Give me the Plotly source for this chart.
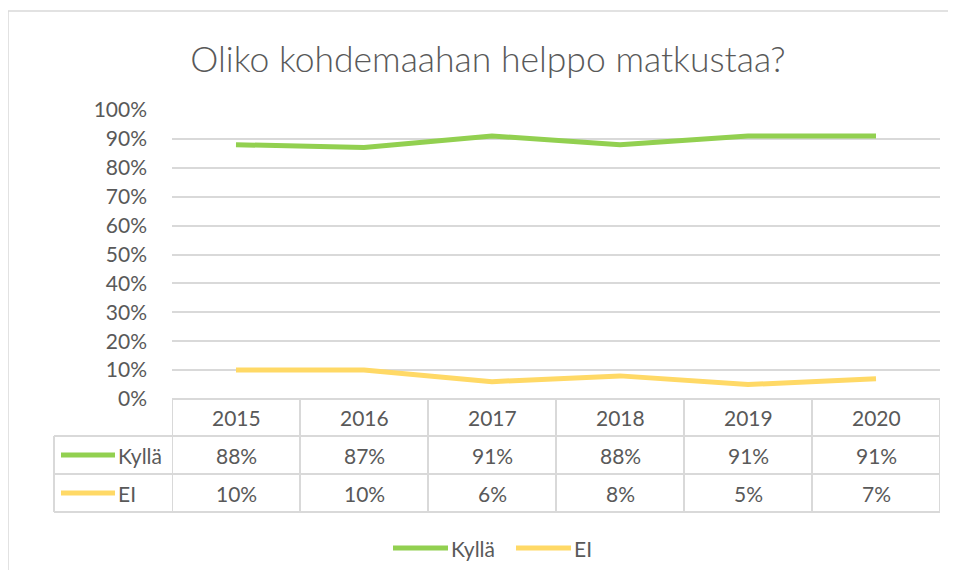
import plotly.graph_objects as go

# ---- data ----
years = ["2015", "2016", "2017", "2018", "2019", "2020"]
kylla = [0.88, 0.87, 0.91, 0.88, 0.91, 0.91]
ei = [0.10, 0.10, 0.06, 0.08, 0.05, 0.07]
series_names = ["Kyllä", "EI"]
title_text = "Oliko kohdemaahan helppo matkustaa?"
y_ticks = [0, 0.1, 0.2, 0.3, 0.4, 0.5, 0.6, 0.7, 0.8, 0.9, 1.0]

# ---- styling ----
OFF = 8  # default body margin of the html page
W, H = 956 - 2 * OFF, 578 - 2 * OFF
GREEN = "#92D050"
YELLOW = "#FFD966"
GRID = "#D9D9D9"
TXT = "#595959"
FONT = "Lato"
FS = 21


def px_x(x):
    return (x - OFF) / W


def px_y(y):
    return 1 - (y - OFF) / H


plot_left, plot_right = 172, 940
plot_top, plot_bottom = 110, 399
row_edges = [399, 436, 474, 512]
table_left = 54

xs = list(range(len(years)))
fig = go.Figure()
series = [kylla, ei]
colors = [GREEN, YELLOW]
for name, vals, col in zip(series_names, series, colors):
    fig.add_trace(go.Scatter(
        x=xs, y=vals, mode="lines", name=name,
        line=dict(color=col, width=5),
        hoverinfo="skip",
    ))

shapes = []
annotations = []

# outer chart border (left and top edges visible)
shapes.append(dict(type="line", xref="paper", yref="paper",
                   x0=px_x(8), x1=px_x(8), y0=px_y(11), y1=px_y(600),
                   line=dict(color=GRID, width=1.5), layer="below"))
shapes.append(dict(type="line", xref="paper", yref="paper",
                   x0=px_x(8), x1=px_x(990), y0=px_y(11), y1=px_y(11),
                   line=dict(color=GRID, width=1.5), layer="below"))

# table horizontal lines (data column region)
for ry in row_edges:
    shapes.append(dict(type="line", xref="x", yref="paper",
                       x0=-0.5, x1=len(years) - 0.5, y0=px_y(ry), y1=px_y(ry),
                       line=dict(color=GRID, width=2)))
# left label column horizontal lines
for ry in row_edges[1:]:
    shapes.append(dict(type="line", xref="paper", yref="paper",
                       x0=px_x(table_left), x1=px_x(plot_left), y0=px_y(ry), y1=px_y(ry),
                       line=dict(color=GRID, width=2)))
# vertical lines
for i in range(len(years) + 1):
    shapes.append(dict(type="line", xref="x", yref="paper",
                       x0=i - 0.5, x1=i - 0.5, y0=px_y(row_edges[0]), y1=px_y(row_edges[-1]),
                       line=dict(color=GRID, width=2)))
shapes.append(dict(type="line", xref="paper", yref="paper",
                   x0=px_x(table_left), x1=px_x(table_left),
                   y0=px_y(row_edges[1]), y1=px_y(row_edges[-1]),
                   line=dict(color=GRID, width=2)))

# header row: years
hdr_y = px_y((row_edges[0] + row_edges[1]) / 2)
for i, yr in enumerate(years):
    annotations.append(dict(x=i, y=hdr_y, xref="x", yref="paper", text=yr,
                            xanchor="center", yanchor="middle",
                            showarrow=False, font=dict(size=FS, color=TXT, family=FONT)))

# data rows
for r, (name, vals, col) in enumerate(zip(series_names, series, colors)):
    cy = (row_edges[r + 1] + row_edges[r + 2]) / 2
    for i, v in enumerate(vals):
        annotations.append(dict(x=i, y=px_y(cy), xref="x", yref="paper",
                                text=f"{round(v * 100)}%", showarrow=False,
                                xanchor="center", yanchor="middle",
                                font=dict(size=FS, color=TXT, family=FONT)))
    shapes.append(dict(type="line", xref="paper", yref="paper",
                       x0=px_x(61), x1=px_x(115), y0=px_y(cy), y1=px_y(cy),
                       line=dict(color=col, width=5)))
    annotations.append(dict(x=px_x(116), y=px_y(cy), xref="paper", yref="paper",
                            text=name, showarrow=False, xanchor="left", yanchor="middle",
                            font=dict(size=FS, color=TXT, family=FONT)))

# bottom legend (drawn manually to match long legend keys)
leg_y = px_y(548)
leg_items = [(393, 448, 449), (516, 571, 572)]
for (x0, x1, tx), name, col in zip(leg_items, series_names, colors):
    shapes.append(dict(type="line", xref="paper", yref="paper",
                       x0=px_x(x0), x1=px_x(x1), y0=leg_y, y1=leg_y,
                       line=dict(color=col, width=5)))
    annotations.append(dict(x=px_x(tx), y=leg_y, xref="paper", yref="paper",
                            text=name, showarrow=False, xanchor="left", yanchor="middle",
                            font=dict(size=FS, color=TXT, family=FONT)))

fig.update_layout(
    width=W, height=H,
    margin=dict(l=0, r=0, t=0, b=0, autoexpand=False),
    paper_bgcolor="white", plot_bgcolor="white",
    title=dict(text=title_text, x=px_x(488), xanchor="center", y=px_y(60), yanchor="middle",
               xref="paper", yref="paper",
               font=dict(size=35.5, color=TXT, family=FONT, weight=300)),
    xaxis=dict(domain=[px_x(plot_left), px_x(plot_right)], range=[-0.5, len(years) - 0.5],
               showgrid=False, zeroline=False, showticklabels=False, showline=False,
               fixedrange=True, automargin=False),
    yaxis=dict(domain=[px_y(plot_bottom), px_y(plot_top)], range=[0, 1],
               tickvals=y_ticks, tickformat=".0%", showgrid=True, gridcolor=GRID, gridwidth=2,
               zeroline=False, showline=False, ticks="", ticklabelstandoff=24,
               tickfont=dict(size=FS, color=TXT, family=FONT), fixedrange=True,
               automargin=False),
    shapes=shapes, annotations=annotations,
    showlegend=False,
)

fig.write_html("out.html", config={"displayModeBar": False})
